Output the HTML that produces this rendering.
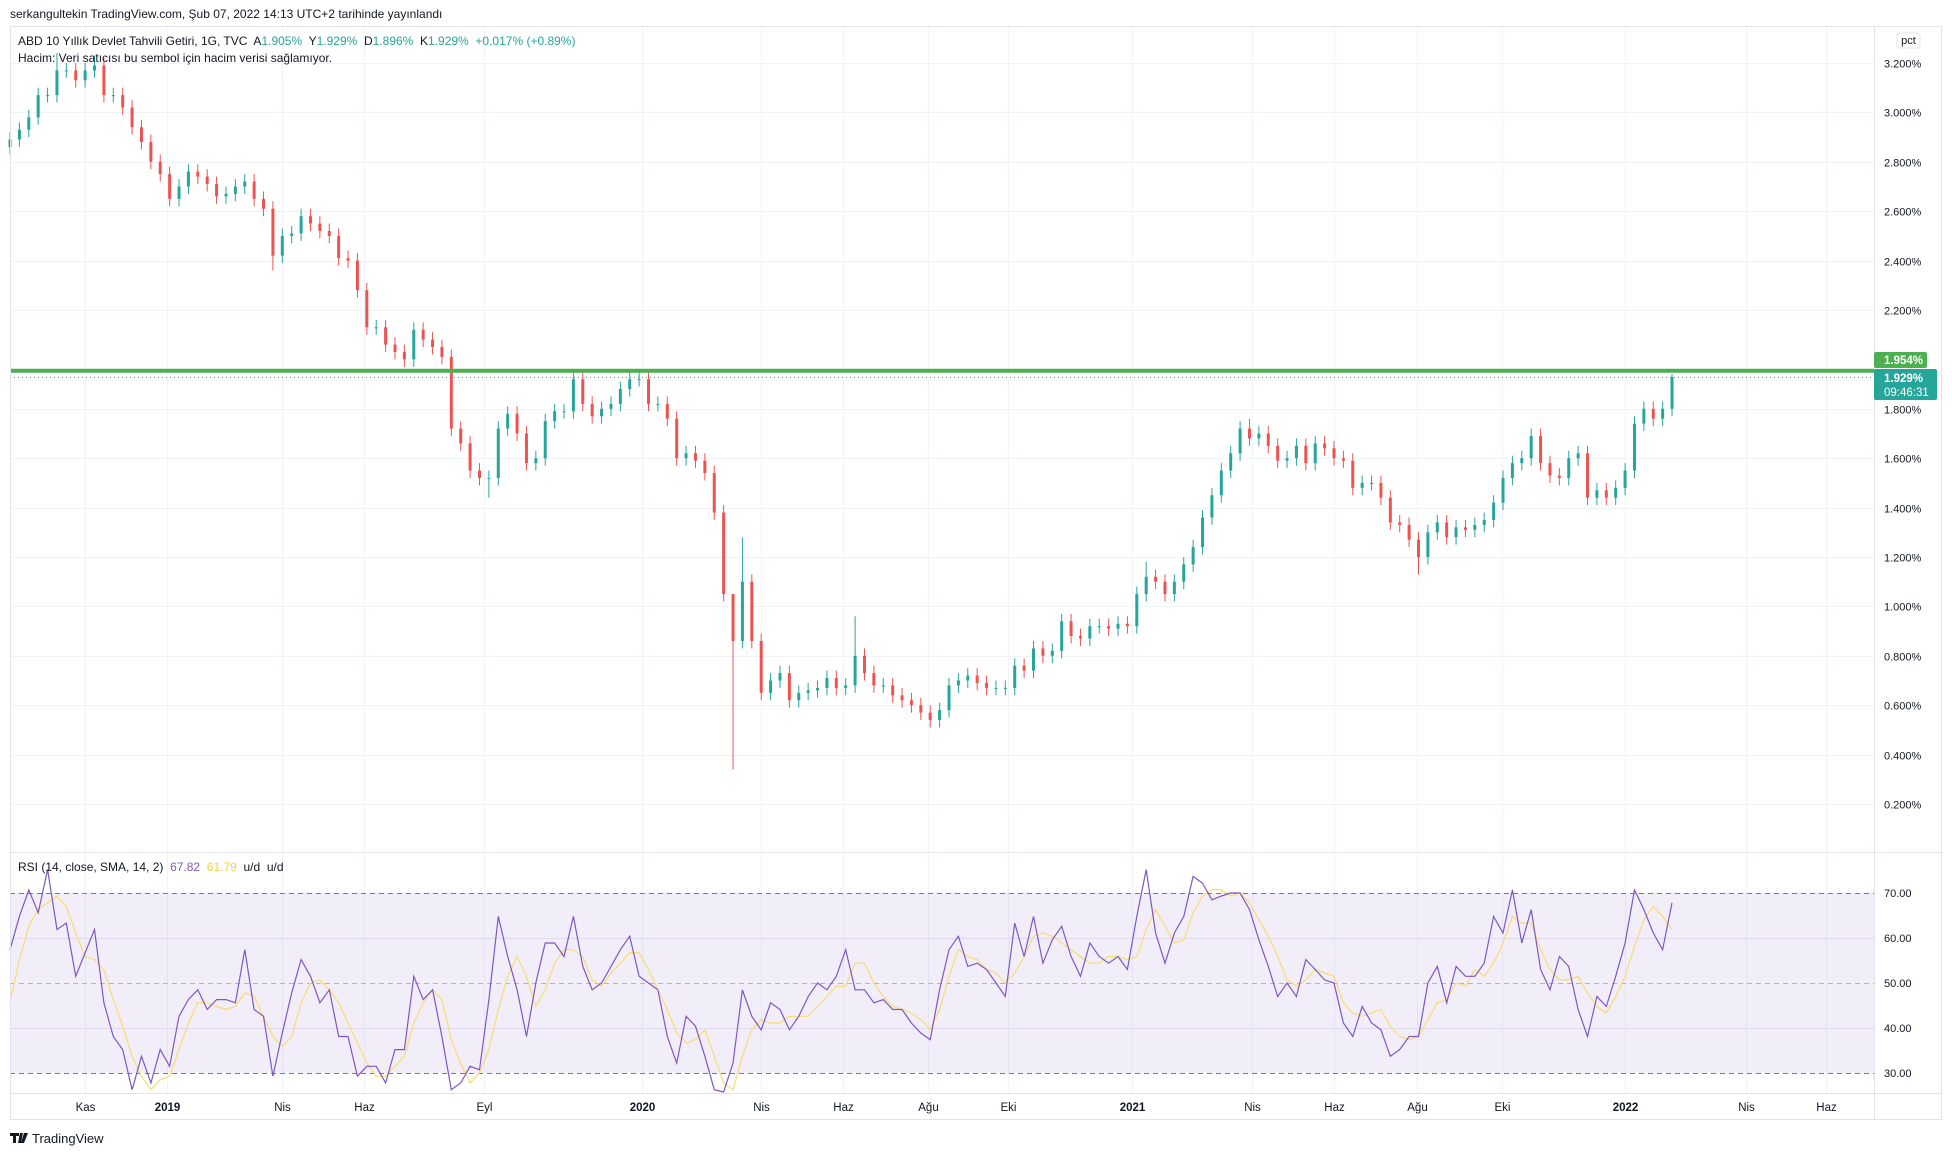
<!DOCTYPE html>
<html><head><meta charset="utf-8">
<style>
html,body{margin:0;padding:0;background:#fff;}
body{width:1952px;height:1156px;position:relative;overflow:hidden;font-family:"Liberation Sans","DejaVu Sans",sans-serif;color:#131722;}
svg text{font-family:"Liberation Sans","DejaVu Sans",sans-serif;}
</style></head>
<body>
<svg id="chart" width="1952" height="1156" xmlns="http://www.w3.org/2000/svg">
  <text x="10" y="18" font-size="12" fill="#131722">serkangultekin TradingView.com, Şub 07, 2022 14:13 UTC+2 tarihinde yayınlandı</text>
  <g id="grid"></g>
  <rect id="rsiBand" x="10" y="0" width="1864" height="0" fill="#7e57c2" fill-opacity="0.1"/>
  <g id="rsiLines"></g>
  <g id="candles"></g>
  <line id="resLine" x1="10" x2="1874" stroke="#4caf50" stroke-width="4"/>
  <line id="lastLine" x1="10" x2="1874" stroke="#26a69a" stroke-width="1" stroke-dasharray="1,3"/>
  <path id="smaPath" fill="none" stroke="#f7dc6f" stroke-width="1.2"/>
  <path id="rsiPath" fill="none" stroke="#7e57c2" stroke-width="1.2"/>
  <g id="axes"></g>
  <rect x="10.5" y="26.5" width="1931" height="1093" fill="none" stroke="#e0e3eb"/>
  <line x1="1874.5" x2="1874.5" y1="26" y2="1120" stroke="#e0e3eb"/>
  <line x1="10" x2="1942" y1="852.5" y2="852.5" stroke="#e0e3eb"/>
  <line x1="10" x2="1942" y1="1093.5" y2="1093.5" stroke="#e0e3eb"/>
  <text x="18" y="45" font-size="12" fill="#131722">ABD 10 Yıllık Devlet Tahvili Getiri, 1G, TVC&#160; A<tspan fill="#26a69a">1.905%</tspan>&#160; Y<tspan fill="#26a69a">1.929%</tspan>&#160; D<tspan fill="#26a69a">1.896%</tspan>&#160; K<tspan fill="#26a69a">1.929%</tspan>&#160; <tspan fill="#26a69a">+0.017% (+0.89%)</tspan></text>
  <text x="18" y="62" font-size="12" fill="#131722">Hacim: Veri satıcısı bu sembol için hacim verisi sağlamıyor.</text>
  <text x="18" y="871" font-size="12" fill="#131722">RSI (14, close, SMA, 14, 2)&#160; <tspan fill="#7e57c2">67.82</tspan>&#160; <tspan fill="#f5d142">61.79</tspan>&#160; u/d&#160; u/d</text>
  <rect x="1897" y="33" width="23" height="15" rx="3" fill="#fff" stroke="#e0e3eb"/>
  <text x="1908.5" y="44" font-size="11" text-anchor="middle" fill="#131722">pct</text>
  <rect x="1874" y="352" width="53" height="16" rx="2" fill="#4caf50"/>
  <text x="1884" y="364" font-size="11.5" font-weight="bold" fill="#fff">1.954%</text>
  <rect x="1874" y="369" width="63" height="31" rx="2" fill="#26a69a"/>
  <text x="1884" y="382" font-size="11.5" font-weight="bold" fill="#fff">1.929%</text>
  <text x="1884" y="396" font-size="11.5" fill="#fff">09:46:31</text>
  <g>
    <path d="M10 1133 h9 v3 h-3 v7 h-3 v-7 h-3z M20 1133 h3 l-2 10 h-3z M24 1133 h4 l-4 10 h-3z" fill="#131722"/>
    <text x="32" y="1143" font-size="13" fill="#131722">TradingView</text>
  </g>
</svg>
<script>
// ---- data (weekly, 2018-09-17 .. 2022-02-07) ----
const closes = [2.89,2.93,2.98,3.07,3.07,3.17,3.17,3.13,3.17,3.19,3.07,3.07,3.02,2.94,2.88,2.80,2.75,2.65,2.70,2.76,
2.74,2.71,2.66,2.67,2.70,2.72,2.65,2.61,2.42,2.50,2.51,2.58,2.55,2.52,2.50,2.41,2.40,2.28,2.13,2.13,
2.06,2.03,2.00,2.12,2.08,2.05,2.01,1.72,1.66,1.55,1.52,1.52,1.72,1.78,1.70,1.58,1.60,1.75,1.79,1.79,
1.92,1.82,1.77,1.80,1.82,1.88,1.92,1.92,1.82,1.82,1.76,1.60,1.62,1.59,1.54,1.38,1.05,0.86,1.10,0.86,
0.65,0.70,0.73,0.62,0.65,0.66,0.67,0.71,0.67,0.68,0.80,0.73,0.68,0.68,0.64,0.62,0.60,0.57,0.54,0.58,
0.68,0.70,0.72,0.69,0.67,0.67,0.67,0.76,0.74,0.83,0.80,0.82,0.94,0.88,0.87,0.92,0.92,0.91,0.93,0.92,
1.05,1.12,1.10,1.05,1.10,1.17,1.24,1.36,1.45,1.55,1.62,1.72,1.68,1.70,1.65,1.59,1.60,1.65,1.58,1.66,
1.64,1.60,1.59,1.48,1.50,1.50,1.44,1.34,1.33,1.27,1.20,1.30,1.34,1.28,1.32,1.31,1.33,1.35,1.42,1.52,
1.58,1.60,1.69,1.58,1.53,1.52,1.60,1.62,1.44,1.47,1.44,1.48,1.55,1.74,1.80,1.76,1.80,1.929];
const firstOpen = 2.86;
const wickHighs = {5:3.24,9:3.23,77:1.02,78:1.28,90:0.96,121:1.18,132:1.76,177:1.94};
const wickLows = {28:2.36,51:1.44,77:0.34,98:0.51,150:1.13};
const rsiValues = [57.4,64.8,70.7,65.6,75.2,61.9,63.3,51.5,56.7,61.9,45.6,38.1,35.2,26.3,33.7,27.8,35.2,31.5,42.6,46.3,
48.5,44.1,46.3,46.3,45.6,57.4,44.1,42.6,29.3,38.9,47.8,55.2,51.5,45.6,48.5,38.1,38.1,29.3,31.5,31.5,
27.8,35.2,35.2,51.5,46.3,48.5,38.1,26.3,27.8,31.5,30.7,46.3,64.8,55.9,48.5,38.1,50,58.9,58.9,55.9,
64.8,53.7,48.5,50,53.7,57.4,60.4,51.5,50,48.5,38.1,32.2,42.6,40.4,33.7,26.3,25.6,32.2,48.5,42.6,
39.6,45.6,44.1,39.6,42.6,47,50,48.5,51.5,57.4,48.5,48.5,45.6,46.3,44.1,44.1,41.1,38.9,37.4,48.5,
57.4,60.4,53.7,54.4,53,50,47,63.3,55.9,64.8,54.4,59.6,62.6,55.9,51.5,58.9,55.9,54.4,55.9,53,
64.8,75.2,61.1,54.4,61.1,64.8,73.7,72.2,68.5,69.3,70,70,66.3,59.6,53.7,47,50,47,55.2,53,
50.7,50,41.1,38.1,44.8,41.1,39.6,33.7,35.2,38.1,38.1,50,53.7,45.6,53.7,51.5,51.5,54.4,64.8,61.1,
70.7,58.9,66.3,53,48.5,55.9,53.7,44.1,38.1,47,44.8,51.5,58.9,70.7,66.3,61.1,57.4,67.8];
const smaValues = [45.6,55.2,62.6,66.3,67.8,69.3,67,61.1,55.9,55.2,53,46.3,40.4,33.7,29.3,26.3,28.5,29.3,35.2,41.1,
45.6,45.6,44.8,44.1,44.8,47.8,47,42.6,38.1,35.9,38.1,45.6,50,50.7,48.5,45.6,41.1,36.7,32.2,29.3,
29.3,31.5,33.7,41.1,45.6,48.5,46.3,37.4,32.2,27.8,30,35.2,44.1,51.5,55.9,51.5,44.8,48.5,54.4,57.4,
57.4,55.9,50.7,49.3,52.2,54.4,56.7,56.7,53,48.5,44.1,38.9,36.7,37.4,39.6,33.7,27.8,26.3,33.7,39.6,
41.9,41.1,41.1,42.6,42.6,42.6,44.8,47,49.3,49.3,54.4,54.4,50,47,44.8,44.1,43.3,41.9,39.6,44.1,
51.5,57.4,55.9,55.2,53,52.2,50,52.2,55.9,60.4,61.1,60.4,58.9,57.4,55.9,54.4,54.4,55.9,55.9,55.2,
55.9,61.9,66.3,62.6,58.9,59.6,65.6,69.3,70.7,70.7,69.3,70,67.8,64.1,60.4,55.9,50.7,49.3,50.7,53,
52.2,51.5,45.6,43.3,42.6,43.3,44.1,40.4,38.1,37.4,38.1,41.9,45.6,46.3,50,49.3,53,51.5,54.4,58.9,
64.8,63.3,63.3,57.4,53,50.7,50.7,51.5,47.8,44.8,43.3,47,51.5,58.1,64.1,67,64.8,61.9];
const priceTicks = [3.2,3.0,2.8,2.6,2.4,2.2,1.8,1.6,1.4,1.2,1.0,0.8,0.6,0.4,0.2];
const rsiTicks = [70,60,50,40,30];
const timeLabels = ["Kas","2019","Nis","Haz","Eyl","2020","Nis","Haz","Ağu","Eki","2021","Nis","Haz","Ağu","Eki","2022","Nis","Haz"];
const timeLabelDays = [56,117,203,264,353,471,560,621,684,744,836,926,987,1049,1112,1204,1294,1354];
const resistanceLevel = 1.954;
const lastPrice = 1.929;

// ---- axes ----
const NS = "http://www.w3.org/2000/svg";
const X0 = 10, WEEK = 9.39, DAY = 490/365.25;
const xWeek = i => X0 + i*WEEK;
const xDay = d => X0 + d*DAY;
const yPrice = v => 63 + (3.2 - v)*247;
const yRsi = v => 893 + (70 - v)*4.5;

function mk(tag, attrs, parent){
  const el = document.createElementNS(NS, tag);
  for (const k in attrs) el.setAttribute(k, attrs[k]);
  parent.appendChild(el);
  return el;
}
const grid = document.getElementById('grid');
const axes = document.getElementById('axes');

priceTicks.forEach(v => {
  const y = Math.round(yPrice(v)) + 0.5;
  const gl = mk('line', {x1:10, x2:1874, y1:y, y2:y, stroke:'#f0f3fa'}, grid);
  
  
  const t = mk('text', {x:1884, y:y+4, 'font-size':11, fill:'#131722'}, axes);
  t.textContent = v.toFixed(3) + '%';
  
  
});
[60,40].forEach(v => {
  const y = Math.round(yRsi(v)) + 0.5;
  const gl = mk('line', {x1:10, x2:1874, y1:y, y2:y, stroke:'#ebe6f5'}, grid);
  
  
});
timeLabels.forEach((lab, k) => {
  const x = Math.round(xDay(timeLabelDays[k])) + 0.5;
  const gl = mk('line', {x1:x, x2:x, y1:27, y2:1093, stroke:'#f0f3fa'}, grid);
  
  
  const isYear = /^\d{4}$/.test(lab);
  const t = mk('text', {x:x, y:1111, 'font-size':11.5, 'text-anchor':'middle', fill:'#131722', 'font-weight': isYear ? 'bold':'normal'}, axes);
  t.textContent = lab;
  
  
});
rsiTicks.forEach(v => {
  const t = mk('text', {x:1884, y:yRsi(v)+4, 'font-size':11, fill:'#131722'}, axes);
  t.textContent = v.toFixed(2);
  
  
});

// RSI band and guides
const band = document.getElementById('rsiBand');
band.setAttribute('y', yRsi(70));
band.setAttribute('height', yRsi(30) - yRsi(70));
const rl = document.getElementById('rsiLines');
[70,50,30].forEach(v => {
  const y = Math.round(yRsi(v)) + 0.5;
  const l = mk('line', {x1:10, x2:1874, y1:y, y2:y, stroke: v===50 ? '#b2b5be' : '#787b86', 'stroke-dasharray':'5,4'}, rl);
  
  
});

// candles
const cg = document.getElementById('candles');
closes.forEach((c, i) => {
  const o = i === 0 ? firstOpen : closes[i-1];
  const up = c >= o;
  const col = up ? '#26a69a' : '#ef5350';
  const hi = wickHighs[i] !== undefined ? wickHighs[i] : Math.max(o, c) + 0.03;
  const lo = wickLows[i] !== undefined ? wickLows[i] : Math.min(o, c) - 0.03;
  const x = xWeek(i);
  const g = mk('g', {}, cg);
  
  
  mk('line', {x1:x, x2:x, y1:yPrice(hi), y2:yPrice(lo), stroke:col, 'stroke-width':1}, g);
  const yt = yPrice(Math.max(o, c)), yb = yPrice(Math.min(o, c));
  mk('rect', {x:x-1.5, y:yt, width:3, height:Math.max(1, yb-yt), fill:col}, g);
});

// level lines
const res = document.getElementById('resLine');
res.setAttribute('y1', yPrice(resistanceLevel)); res.setAttribute('y2', yPrice(resistanceLevel));
const last = document.getElementById('lastLine');
last.setAttribute('y1', yPrice(lastPrice)+0.5); last.setAttribute('y2', yPrice(lastPrice)+0.5);

// RSI lines
const clampY = y => Math.max(853, Math.min(1092, y));
document.getElementById('rsiPath').setAttribute('d', rsiValues.map((v,i)=>(i?'L':'M')+xWeek(i).toFixed(1)+' '+clampY(yRsi(v)).toFixed(1)).join(' '));
document.getElementById('smaPath').setAttribute('d', smaValues.map((v,i)=>(i?'L':'M')+xWeek(i).toFixed(1)+' '+clampY(yRsi(v)).toFixed(1)).join(' '));
</script>
</body></html>
